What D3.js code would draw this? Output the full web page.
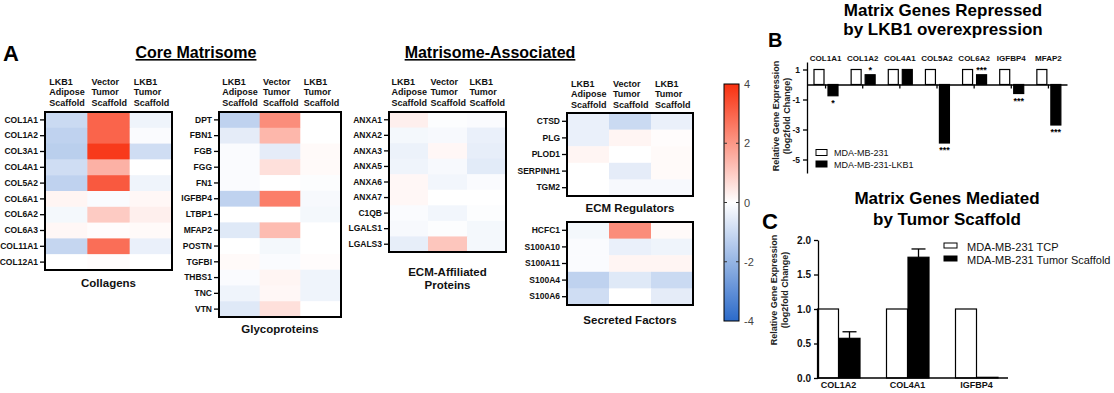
<!DOCTYPE html>
<html>
<head>
<meta charset="utf-8">
<script src="https://cdn.jsdelivr.net/npm/d3@7"></script>
<style>
  body { margin: 0; background: #fff; }
  svg { font-family: "Liberation Sans", Arial, sans-serif; }
</style>
</head>
<body>
<div id="container"></div>
<script>
const width = 1114, height = 393;

/* HEATMAP DATA (log2 fold change) - columns: LKB1 adipose, vector tumor, LKB1 tumor */
const conditions = [["LKB1", "Adipose", "Scaffold"], ["Vector", "Tumor", "Scaffold"], ["LKB1", "Tumor", "Scaffold"]];

const collagenGenes = ["COL1A1", "COL1A2", "COL3A1", "COL4A1", "COL5A2", "COL6A1", "COL6A2", "COL6A3", "COL11A1", "COL12A1"];
const collagenValues = [
  [-1.0, 3.0, -0.3], [-1.2, 3.0, -0.1], [-1.3, 3.8, -0.9], [-0.9, 1.5, 0.0], [-1.2, 3.2, -0.3],
  [0.2, -0.1, 0.15], [-0.2, 1.0, 0.3], [0.15, 0.05, 0.1], [-1.1, 2.8, -0.4], [0.0, 0.05, 0.0]
];

const glycoGenes = ["DPT", "FBN1", "FGB", "FGG", "FN1", "IGFBP4", "LTBP1", "MFAP2", "POSTN", "TGFBI", "THBS1", "TNC", "VTN"];
const glycoValues = [
  [-1.2, 2.2, 0.0], [-0.5, 1.4, 0.0], [-0.1, -0.5, 0.1], [-0.1, 0.6, 0.1], [-0.1, 0.0, -0.05],
  [-1.2, 2.5, -0.15], [0.0, 0.0, -0.2], [-0.6, 1.3, 0.0], [0.0, -0.2, 0.0], [0.1, -0.1, 0.05],
  [-0.1, 0.2, -0.3], [-0.3, 0.15, -0.3], [-0.6, 0.6, 0.0]
];

const affiliatedGenes = ["ANXA1", "ANXA2", "ANXA3", "ANXA5", "ANXA6", "ANXA7", "C1QB", "LGALS1", "LGALS3"];
const affiliatedValues = [
  [0.3, -0.05, -0.1], [-0.2, -0.15, -0.4], [-0.35, 0.15, -0.45], [-0.3, -0.15, -0.55], [0.15, -0.25, -0.1],
  [0.15, 0.0, 0.0], [-0.1, -0.25, -0.05], [-0.15, -0.05, -0.2], [-0.45, 1.1, -0.2]
];

const regulatorGenes = ["CTSD", "PLG", "PLOD1", "SERPINH1", "TGM2"];
const regulatorValues = [
  [-0.4, -1.0, -0.4], [-0.4, 0.2, 0.05], [0.2, 0.0, 0.1], [0.0, -0.5, 0.1], [0.0, -0.15, -0.15]
];

const secretedGenes = ["HCFC1", "S100A10", "S100A11", "S100A4", "S100A6"];
const secretedValues = [
  [-0.2, 2.2, 0.1], [-0.1, -0.4, -0.3], [-0.1, 0.2, 0.2], [-1.2, -0.6, -1.0], [-0.9, 0.0, -0.5]
];

const colorTicks = [4, 2, 0, -2, -4];

/* PANEL B DATA */
const repressedGenes = ["COL1A1", "COL1A2", "COL4A1", "COL5A2", "COL6A2", "IGFBP4", "MFAP2"];
const parentalLevels = [1, 1, 1, 1, 1, 1, 1];
const lkb1Levels = [-0.75, 0.65, 1.0, -3.9, 0.65, -0.6, -2.7];
const lkb1Stars = ["*", "*", "", "***", "***", "***", "***"];
const bTicks = [1, -1, -3, -5];

/* PANEL C DATA */
const mediatedGenes = ["COL1A2", "COL4A1", "IGFBP4"];
const tcpLevels = [1, 1, 1];
const scaffoldLevels = [0.575, 1.75, 0.01];
const scaffoldErrors = [0.095, 0.12, 0];
const cTicks = [0, 0.5, 1, 1.5, 2];

/* SCALES */
const colorScale = d3.scaleLinear()
  .domain([-4, 0, 4])
  .range(["#2b6ac9", "#ffffff", "#f8300f"]);

const svg = d3.select("#container")
  .append("svg")
  .attr("width", width)
  .attr("height", height);

function heatmap(genes, values, box, title, titleY, headerY) {
  const x = d3.scaleBand().domain([0, 1, 2]).range([box.x0, box.x1]);
  const y = d3.scaleBand().domain(genes).range([box.y0, box.y1]);
  const g = svg.append("g");

  const cells = [];
  genes.forEach((gene, i) => values[i].forEach((v, j) => cells.push({ gene, j, v })));

  g.selectAll("rect.cell")
    .data(cells)
    .join("rect")
    .attr("class", "cell")
    .attr("x", d => x(d.j))
    .attr("y", d => y(d.gene))
    .attr("width", x.bandwidth() + 0.5)
    .attr("height", y.bandwidth() + 0.5)
    .attr("fill", d => colorScale(d.v));

  const axis = g.append("g")
    .attr("transform", `translate(${box.x0 - 1},0)`)
    .call(d3.axisLeft(y).tickSize(4).tickPadding(2))
  axis.select(".domain").remove()
  axis.selectAll("line").attr("stroke", "#000").attr("stroke-width", 1.3)
  axis.selectAll("text")
    .attr("fill", "#111")
    .style("font-size", "8.5px")
    .style("font-weight", "bold")

  g.append("rect")
    .attr("x", box.x0)
    .attr("y", box.y0)
    .attr("width", box.x1 - box.x0)
    .attr("height", box.y1 - box.y0)
    .attr("fill", "none")
    .attr("stroke", "#000")
    .attr("stroke-width", 2)

  if (headerY) {
    conditions.forEach((lines, j) => {
      lines.forEach((t, k) => {
        g.append("text")
          .attr("x", x(j) + x.bandwidth() / 2 - 17)
          .attr("y", headerY + k * 10.3)
          .text(t)
          .style("font-size", "9px")
          .style("font-weight", "bold")
          .attr("fill", "#111")
      })
    })
  }

  title.forEach((t, k) => {
    g.append("text")
      .attr("x", (box.x0 + box.x1) / 2)
      .attr("y", titleY + k * 13)
      .attr("text-anchor", "middle")
      .text(t)
      .style("font-size", "11.5px")
      .style("font-weight", "bold")
      .attr("fill", "#111")
  })
}

/* PANEL A */
svg.append("text").attr("x", 3).attr("y", 61).text("A")
  .style("font-size", "22px").style("font-weight", "bold")

svg.append("text").attr("x", 196).attr("y", 58).attr("text-anchor", "middle")
  .text("Core Matrisome").style("font-size", "16px").style("font-weight", "bold")
  .style("text-decoration", "underline")
svg.append("text").attr("x", 490).attr("y", 58).attr("text-anchor", "middle")
  .text("Matrisome-Associated").style("font-size", "16px").style("font-weight", "bold")
  .style("text-decoration", "underline")

heatmap(collagenGenes, collagenValues, { x0: 45, x1: 172, y0: 112, y1: 270 }, ["Collagens"], 287, 85)
heatmap(glycoGenes, glycoValues, { x0: 219, x1: 341, y0: 112, y1: 317 }, ["Glycoproteins"], 333, 85)
heatmap(affiliatedGenes, affiliatedValues, { x0: 389, x1: 506, y0: 112, y1: 252 }, ["ECM-Affiliated", "Proteins"], 276, 85)
heatmap(regulatorGenes, regulatorValues, { x0: 567, x1: 693, y0: 113, y1: 196 }, ["ECM Regulators"], 212, 87)
heatmap(secretedGenes, secretedValues, { x0: 567, x1: 693, y0: 222, y1: 305 }, ["Secreted Factors"], 324, null)

// COLOR BAR
const cbScale = d3.scaleLinear().domain([-4, 4]).range([321, 84]);
const grad = svg.append("defs").append("linearGradient")
  .attr("id", "cbar").attr("x1", 0).attr("y1", 1).attr("x2", 0).attr("y2", 0)
grad.selectAll("stop")
  .data(d3.range(-4, 4.01, 0.5))
  .join("stop")
  .attr("offset", d => (d + 4) / 8)
  .attr("stop-color", d => colorScale(d))

svg.append("rect")
  .attr("x", 724).attr("y", cbScale(4))
  .attr("width", 15).attr("height", cbScale(-4) - cbScale(4))
  .attr("fill", "url(#cbar)").attr("stroke", "#000").attr("stroke-width", 1)

const cbAxis = svg.append("g")
  .attr("transform", "translate(739,0)")
  .call(d3.axisRight(cbScale).tickValues(colorTicks).tickSize(0).tickPadding(5).tickFormat(d => String(d)))
cbAxis.select(".domain").remove()
cbAxis.selectAll("text").attr("fill", "#444").style("font-size", "11px")

svg.selectAll("line.cbtick")
  .data([2, 0, -2].flatMap(v => [{ v, x: 724 }, { v, x: 736 }]))
  .join("line")
  .attr("class", "cbtick")
  .attr("x1", d => d.x).attr("x2", d => d.x + 3)
  .attr("y1", d => cbScale(d.v)).attr("y2", d => cbScale(d.v))
  .attr("stroke", "#333")

/* PANEL B */
svg.append("text").attr("x", 768).attr("y", 47).text("B")
  .style("font-size", "20px").style("font-weight", "bold")
svg.append("text").attr("x", 943).attr("y", 16).attr("text-anchor", "middle")
  .text("Matrix Genes Repressed").style("font-size", "17px").style("font-weight", "bold")
svg.append("text").attr("x", 943).attr("y", 35).attr("text-anchor", "middle")
  .text("by LKB1 overexpression").style("font-size", "17px").style("font-weight", "bold")

const xB = d3.scaleBand().domain(repressedGenes).range([807, 1067]);
const yB = d3.scaleLinear().domain([-5.9, 1.5]).range([173, 62]);

svg.selectAll("rect.parental")
  .data(repressedGenes)
  .join("rect")
  .attr("class", "parental")
  .attr("x", d => xB(d) + 7)
  .attr("y", (d, i) => yB(parentalLevels[i]))
  .attr("width", 10)
  .attr("height", (d, i) => yB(0) - yB(parentalLevels[i]))
  .attr("fill", "#fff").attr("stroke", "#000").attr("stroke-width", 1.2)

svg.selectAll("rect.lkb1")
  .data(repressedGenes)
  .join("rect")
  .attr("class", "lkb1")
  .attr("x", d => xB(d) + 21)
  .attr("y", (d, i) => yB(Math.max(0, lkb1Levels[i])))
  .attr("width", 10)
  .attr("height", (d, i) => Math.abs(yB(lkb1Levels[i]) - yB(0)))
  .attr("fill", "#000").attr("stroke", "#000").attr("stroke-width", 1.2)

svg.selectAll("text.stars")
  .data(repressedGenes)
  .join("text")
  .attr("class", "stars")
  .attr("x", d => xB(d) + 26)
  .attr("y", (d, i) => lkb1Levels[i] < 0 ? yB(lkb1Levels[i]) + 10 : yB(lkb1Levels[i]) - 1.5)
  .attr("text-anchor", "middle")
  .text((d, i) => lkb1Stars[i])
  .style("font-size", "9px").style("font-weight", "bold")

const bLeft = svg.append("g")
  .attr("transform", "translate(807,0)")
  .call(d3.axisLeft(yB).tickValues(bTicks).tickSize(4).tickSizeOuter(0).tickFormat(d => String(d)))
bLeft.selectAll("text").style("font-size", "8.5px").style("font-weight", "bold").attr("fill", "#111")
bLeft.selectAll("path,line").attr("stroke-width", 1.3)

const bZero = svg.append("g")
  .attr("transform", `translate(0,${yB(0)})`)
  .call(d3.axisBottom(xB).tickSize(4).tickSizeOuter(0).tickFormat(""))
bZero.selectAll("path,line").attr("stroke-width", 1.3)

const bTop = svg.append("g")
  .attr("transform", "translate(0,61)")
  .call(d3.axisTop(xB).tickSize(0).tickPadding(0))
bTop.select(".domain").remove()
bTop.selectAll("text").style("font-size", "8px").style("font-weight", "bold").attr("fill", "#111")

const bLabel = svg.append("text")
  .attr("transform", "translate(779,116) rotate(-90)")
  .attr("text-anchor", "middle")
  .style("font-size", "9px").style("font-weight", "bold").attr("fill", "#222")
bLabel.append("tspan").attr("x", 0).attr("dy", 0).text("Relative Gene Expression")
bLabel.append("tspan").attr("x", 0).attr("dy", 10.5).text("(log2fold Change)")

const bLegend = [{ label: "MDA-MB-231", fill: "#fff" }, { label: "MDA-MB-231-LKB1", fill: "#000" }];
bLegend.forEach((d, i) => {
  svg.append("rect").attr("x", 816).attr("y", 149.5 + i * 11.5).attr("width", 11).attr("height", 6)
    .attr("fill", d.fill).attr("stroke", "#000").attr("stroke-width", 1)
  svg.append("text").attr("x", 834).attr("y", 156 + i * 11.5).text(d.label)
    .style("font-size", "9px").attr("fill", "#111")
})

/* PANEL C */
svg.append("text").attr("x", 762).attr("y", 229).text("C")
  .style("font-size", "22px").style("font-weight", "bold")
svg.append("text").attr("x", 947).attr("y", 204).attr("text-anchor", "middle")
  .text("Matrix Genes Mediated").style("font-size", "17px").style("font-weight", "bold")
svg.append("text").attr("x", 947).attr("y", 225).attr("text-anchor", "middle")
  .text("by Tumor Scaffold").style("font-size", "17px").style("font-weight", "bold")

const xC = d3.scaleBand().domain(mediatedGenes).range([804, 1011]);
const yC = d3.scaleLinear().domain([0, 2]).range([378, 240]);

svg.selectAll("rect.tcp")
  .data(mediatedGenes)
  .join("rect")
  .attr("class", "tcp")
  .attr("x", d => xC(d) + 13.5)
  .attr("y", (d, i) => yC(tcpLevels[i]))
  .attr("width", 21)
  .attr("height", (d, i) => yC(0) - yC(tcpLevels[i]))
  .attr("fill", "#fff").attr("stroke", "#000").attr("stroke-width", 1.2)

svg.selectAll("line.err")
  .data(mediatedGenes)
  .join("line")
  .attr("class", "err")
  .attr("x1", d => xC(d) + 45.5).attr("x2", d => xC(d) + 45.5)
  .attr("y1", (d, i) => yC(scaffoldLevels[i]))
  .attr("y2", (d, i) => yC(scaffoldLevels[i] + scaffoldErrors[i]))
  .attr("stroke", "#000").attr("stroke-width", 1.3)

svg.selectAll("line.cap")
  .data(mediatedGenes.filter((d, i) => scaffoldErrors[i] > 0))
  .join("line")
  .attr("class", "cap")
  .attr("x1", d => xC(d) + 38.5).attr("x2", d => xC(d) + 52.5)
  .attr("y1", d => yC(scaffoldLevels[mediatedGenes.indexOf(d)] + scaffoldErrors[mediatedGenes.indexOf(d)]))
  .attr("y2", d => yC(scaffoldLevels[mediatedGenes.indexOf(d)] + scaffoldErrors[mediatedGenes.indexOf(d)]))
  .attr("stroke", "#000").attr("stroke-width", 1.3)

svg.selectAll("rect.scaffold")
  .data(mediatedGenes)
  .join("rect")
  .attr("class", "scaffold")
  .attr("x", d => xC(d) + 35)
  .attr("y", (d, i) => yC(scaffoldLevels[i]))
  .attr("width", 21)
  .attr("height", (d, i) => yC(0) - yC(scaffoldLevels[i]))
  .attr("fill", "#000").attr("stroke", "#000").attr("stroke-width", 1.2)

const cLeft = svg.append("g")
  .attr("transform", "translate(818,0)")
  .call(d3.axisLeft(yC).tickValues(cTicks).tickSize(4).tickSizeOuter(0).tickFormat(d3.format(".1f")))
cLeft.selectAll("text").style("font-size", "10px").style("font-weight", "bold").attr("fill", "#111")
cLeft.selectAll("path,line").attr("stroke-width", 1.3)

const cBottom = svg.append("g")
  .attr("transform", `translate(0,${yC(0)})`)
  .call(d3.axisBottom(xC).tickSize(0).tickPadding(4))
cBottom.select(".domain").remove()
cBottom.selectAll("text").style("font-size", "9px").style("font-weight", "bold").attr("fill", "#111")
svg.append("line")
  .attr("x1", 818).attr("x2", 1008).attr("y1", yC(0)).attr("y2", yC(0))
  .attr("stroke", "#000").attr("stroke-width", 1.3)

const cLabel = svg.append("text")
  .attr("transform", "translate(777,290) rotate(-90)")
  .attr("text-anchor", "middle")
  .style("font-size", "9px").style("font-weight", "bold").attr("fill", "#222")
cLabel.append("tspan").attr("x", 0).attr("dy", 0).text("Relative Gene Expression")
cLabel.append("tspan").attr("x", 0).attr("dy", 10.5).text("(log2fold Change)")

const cLegend = [{ label: "MDA-MB-231 TCP", fill: "#fff" }, { label: "MDA-MB-231 Tumor Scaffold", fill: "#000" }];
cLegend.forEach((d, i) => {
  svg.append("rect").attr("x", 944).attr("y", 243 + i * 13).attr("width", 13).attr("height", 5)
    .attr("fill", d.fill).attr("stroke", "#000").attr("stroke-width", 1)
  svg.append("text").attr("x", 967).attr("y", 251 + i * 13).text(d.label)
    .style("font-size", "11px").attr("fill", "#111")
})
</script>
</body>
</html>
